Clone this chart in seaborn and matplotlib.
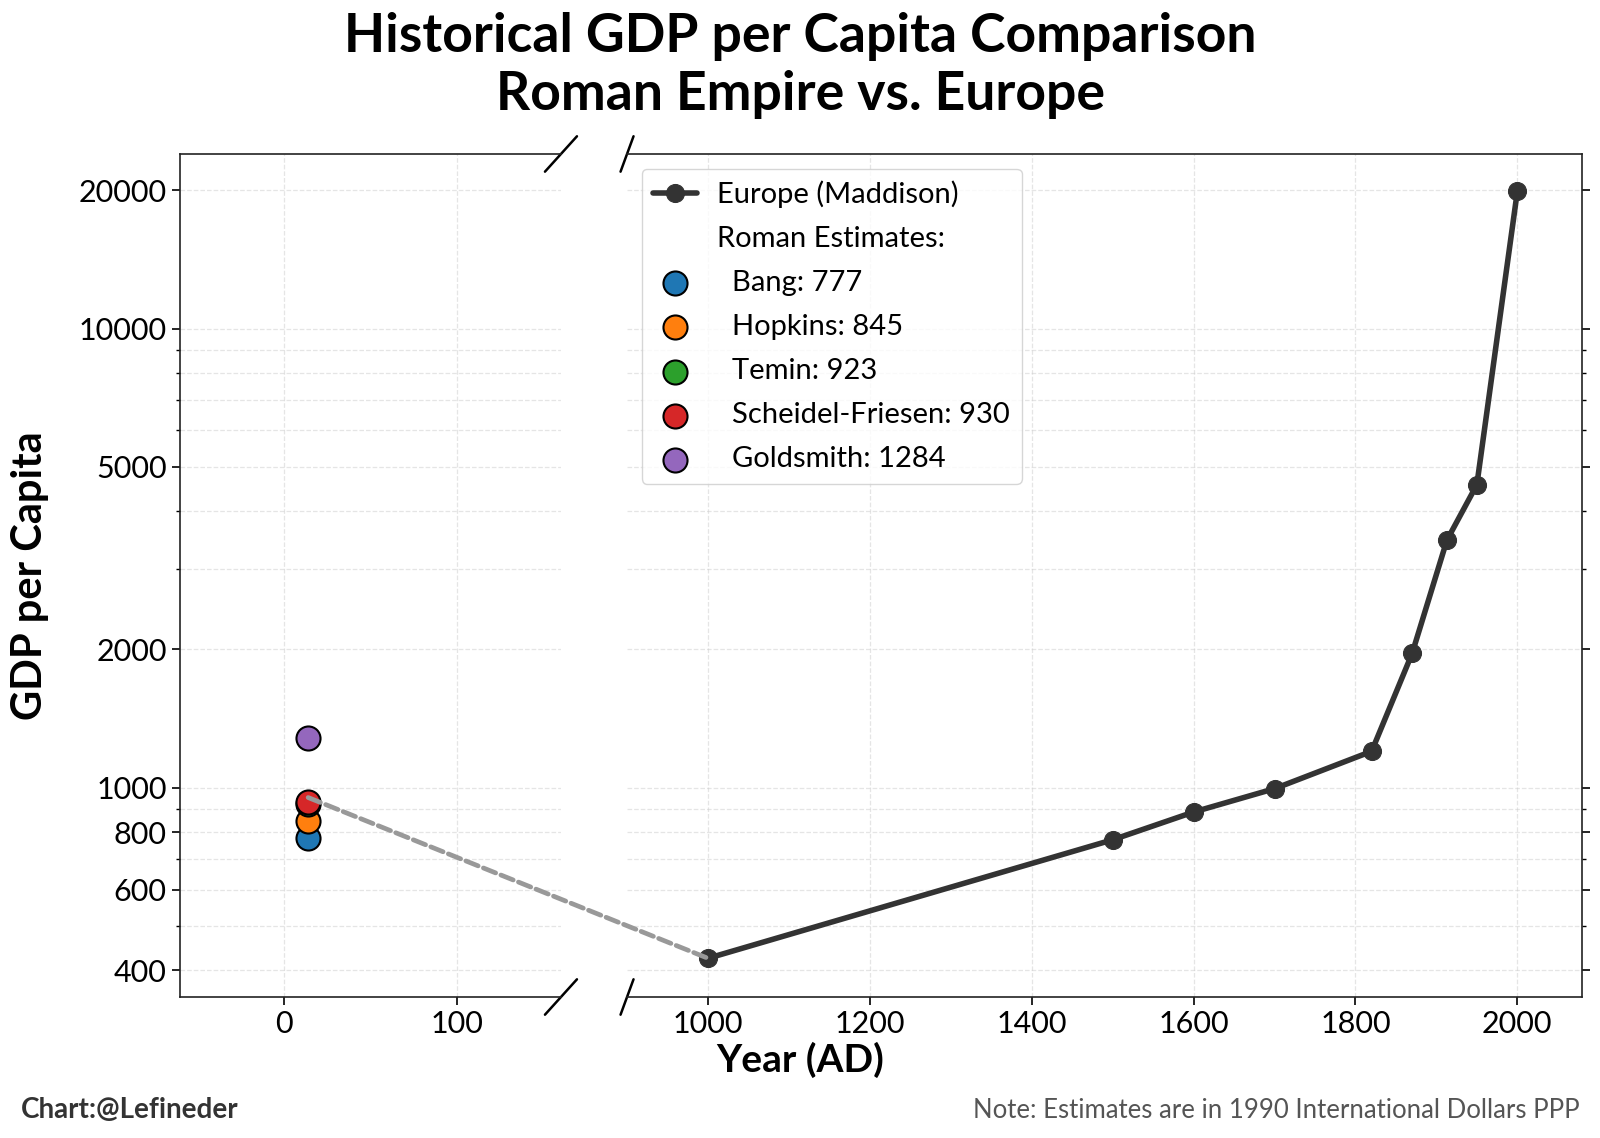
import numpy as np
import pandas as pd
import seaborn as sns
import matplotlib.pyplot as plt
from matplotlib.lines import Line2D
from matplotlib.patches import ConnectionPatch
from matplotlib.ticker import FixedLocator, FuncFormatter, NullFormatter

# Europe GDP per capita (Maddison, 1990 Int. $)
europe_years = [1000, 1500, 1600, 1700, 1820, 1870, 1913, 1950, 2000]
europe_gdp = [425, 770, 885, 995, 1200, 1960, 3460, 4570, 19900]

# Roman Empire estimates (around 14 AD)
roman_year = 14
roman_names = ["Bang", "Hopkins", "Temin", "Scheidel-Friesen", "Goldsmith"]
roman_gdp = [777, 845, 923, 930, 1284]
roman_colors = ["#1f77b4", "#ff7f0e", "#2ca02c", "#d62728", "#9467bd"]

y_ticks = [400, 600, 800, 1000, 2000, 5000, 10000, 20000]
left_xticks = [0, 100]
right_xticks = [1000, 1200, 1400, 1600, 1800, 2000]

sns.set_style("ticks")
plt.rcParams['font.family'] = ['Lato', 'DejaVu Sans']
plt.rcParams['text.color'] = 'black'
plt.rcParams['xtick.color'] = 'black'
plt.rcParams['ytick.color'] = 'black'

fig = plt.figure(figsize=(16, 11.38), dpi=100)
ax1 = fig.add_axes([0.1125, 0.1239, 0.2381, 0.7408])
ax2 = fig.add_axes([0.3919, 0.1239, 0.5969, 0.7408], sharey=ax1)

# europe line
df_eu = pd.DataFrame({"year": europe_years, "gdp": europe_gdp})
sns.lineplot(data=df_eu, x="year", y="gdp", ax=ax2, color="#333333", linewidth=4,
             marker="o", markersize=13, markeredgecolor="#333333",
             label="Europe (Maddison)", zorder=3)

# roman estimates
for name, val, col in zip(roman_names, roman_gdp, roman_colors):
    sns.scatterplot(x=[roman_year], y=[val], ax=ax1, color=col, s=300,
                    edgecolor="black", linewidth=1.5, zorder=3,
                    label=f"  {name}: {val}")

for ax in (ax1, ax2):
    if ax.get_legend() is not None:
        ax.get_legend().remove()
    ax.set_xlabel("")
    ax.set_ylabel("")
    ax.grid(True, which="both", linestyle="--", color="#cccccc", alpha=0.5, linewidth=0.9)
    ax.set_axisbelow(True)
    for s in ax.spines.values():
        s.set_linewidth(1.2)
        s.set_color("#222222")

ax1.set_yscale("log")
ax1.set_ylim(350, 24000)
ax1.yaxis.set_major_locator(FixedLocator(y_ticks))
ax1.yaxis.set_major_formatter(FuncFormatter(lambda v, p: f"{int(v)}"))
ax1.yaxis.set_minor_formatter(NullFormatter())

ax1.set_xlim(-60, 160)
ax1.set_xticks(left_xticks)
ax2.set_xlim(900, 2080)
ax2.set_xticks(right_xticks)

ax1.spines["right"].set_visible(False)
ax2.spines["left"].set_visible(False)
ax2.yaxis.tick_right()
ax2.tick_params(axis="y", which="both", labelright=False, labelleft=False)

for ax in (ax1, ax2):
    ax.tick_params(axis="both", which="major", labelsize=22, length=6, width=1.2)
    ax.tick_params(axis="y", which="minor", length=3, width=1)

# break marks
kw = dict(color="k", lw=1.8, clip_on=False)
ax1.plot([1 - 0.042, 1 + 0.042], [-0.021, 0.021], transform=ax1.transAxes, **kw)
ax1.plot([1 - 0.042, 1 + 0.042], [1 - 0.021, 1 + 0.021], transform=ax1.transAxes, **kw)
ax2.plot([-0.0068, 0.0068], [-0.021, 0.021], transform=ax2.transAxes, **kw)
ax2.plot([-0.0068, 0.0068], [1 - 0.021, 1 + 0.021], transform=ax2.transAxes, **kw)

# dashed link from roman average to year 1000
con = ConnectionPatch(xyA=(roman_year, np.mean(roman_gdp)), coordsA=ax1.transData,
                      xyB=(europe_years[0], europe_gdp[0]), coordsB=ax2.transData,
                      color="#999999", lw=3.4, linestyle=(0, (2.8, 1.2)), zorder=4)
fig.add_artist(con)

# legend
h2, l2 = ax2.get_legend_handles_labels()
h1, l1 = ax1.get_legend_handles_labels()
blank = Line2D([], [], linestyle="none")
leg = ax2.legend(h2 + [blank] + h1, l2 + ["Roman Estimates:"] + l1, loc="upper left",
                 fontsize=21, frameon=True, borderaxespad=0.5, labelspacing=0.62,
                 handlelength=1.5, handletextpad=0.7)
leg.get_frame().set_edgecolor("#cccccc")

fig.suptitle("Historical GDP per Capita Comparison\nRoman Empire vs. Europe",
             fontsize=38.5, fontweight="bold", y=0.9426, va="center", linespacing=1.22)
fig.text(0.5, 0.069, "Year (AD)", fontsize=28, fontweight="bold", ha="center", va="center")
fig.text(0.019, 0.494, "GDP per Capita", fontsize=30, fontweight="bold", rotation=90,
         ha="center", va="center")
fig.text(0.0128, 0.0246, "Chart:@Lefineder", fontsize=20, fontweight="bold",
         color="#333333", va="center")
fig.text(0.9875, 0.0246, "Note: Estimates are in 1990 International Dollars PPP",
         fontsize=18.5, color="#555555", ha="right", va="center")

fig.savefig("out.png", dpi=100)
